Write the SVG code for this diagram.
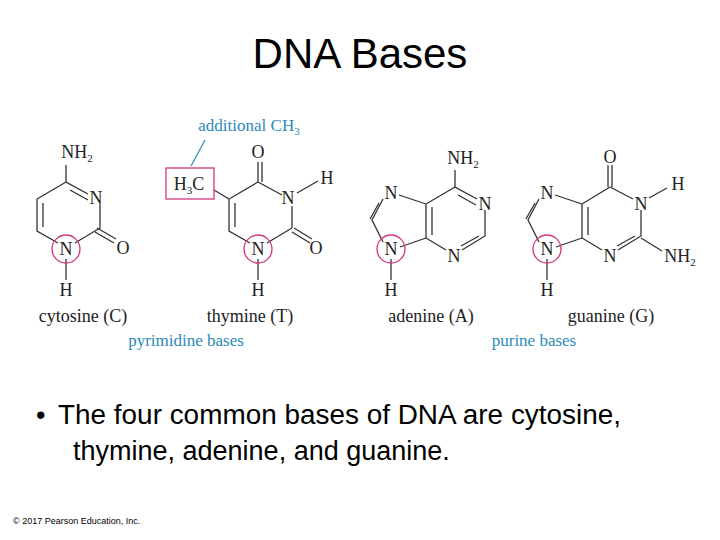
<svg xmlns="http://www.w3.org/2000/svg" width="720" height="540" viewBox="0 0 720 540">
<style>
.t{font-family:"Liberation Serif",serif;font-size:18px;fill:#222;text-anchor:middle}
.s{font-size:11px}
.b{font-family:"Liberation Serif",serif;font-size:17px;fill:#2a8ab8;text-anchor:middle}
.l{stroke:#333;stroke-width:1.3;fill:none}
.c{stroke:#d4357e;stroke-width:1.3;fill:none}
.a{font-family:"Liberation Sans",Arial,sans-serif;fill:#000}
</style>
<rect width="720" height="540" fill="#fff"/>
<text class="a" x="360" y="68" font-size="42" text-anchor="middle">DNA Bases</text>
<g id="connectors">
<path class="l" d="M66,165 V182 L88,194 M100,204 V228 L75,243 M58,243 L37,231 V199 L66,182 M70,190 L88,200 M43,203 V227 M95,232 L114,243 M97,228 L116,239 M66,259 V280"/>
<path class="l" d="M258,162 V182 M262,162 V182 M258,182 L282,195 M292,228 V206 M292,228 L267,243 M250,243 L229,231 V199 L258,182 M235,203 V227 M292,232 L310,243 M294,228 L312,239 M258,259 V280 M297,193 L318,181 M229,199 L214,190"/>
<path d="M205,140 L191,166" stroke="#2a8ab8" stroke-width="1.2" fill="none"/>
<rect x="166" y="168" width="48" height="31" fill="none" stroke="#d4357e" stroke-width="1.3"/>
<path class="l" d="M455,170 V187 L477,199 M485,210 V236 L462,250 M446,250 L426,238 V204 L455,187 M458,195 L476,205 M432,207 V235 M479,236 L461,246 M426,204 L399,195 M383,199 L372,220 L383,242 M379,203 L370,219 M426,238 L400,247 M391,259 V280"/>
<path class="l" d="M608,165 V187 M612,165 V187 M610,187 L633,199 M641,210 V236 L618,250 M602,250 L582,238 V204 L610,187 M588,207 V235 M635,236 L617,246 M582,204 L555,195 M539,199 L528,220 L539,242 M535,203 L526,219 M582,238 L556,247 M547,259 V280 M649,198 L667,188 M641,238 L662,251"/>
</g>
<g id="cytosine">
<text class="t" x="77" y="158">NH<tspan class="s" dy="4">2</tspan></text>
<text class="t" x="96" y="204">N</text>
<text class="t" x="123" y="254">O</text>
<text class="t" x="66" y="255">N</text>
<circle class="c" cx="66" cy="249" r="14"/>
<text class="t" x="66" y="296">H</text>
<text class="t" x="83" y="322">cytosine (C)</text>
</g>
<g id="thymine">
<text class="b" x="249" y="131">additional CH<tspan font-size="11" dy="4">3</tspan></text>
<text class="t" x="189" y="190">H<tspan class="s" dy="4">3</tspan><tspan dy="-4">C</tspan></text>
<text class="t" x="258" y="158">O</text>
<text class="t" x="288" y="204">N</text>
<text class="t" x="327" y="184">H</text>
<text class="t" x="316" y="254">O</text>
<text class="t" x="258" y="255">N</text>
<circle class="c" cx="258" cy="249" r="14"/>
<text class="t" x="258" y="296">H</text>
<text class="t" x="250" y="322">thymine (T)</text>
<text class="b" x="186" y="346">pyrimidine bases</text>
</g>
<g id="adenine">
<text class="t" x="463" y="164">NH<tspan class="s" dy="4">2</tspan></text>
<text class="t" x="485" y="210">N</text>
<text class="t" x="454" y="262">N</text>
<text class="t" x="391" y="199">N</text>
<text class="t" x="391" y="255">N</text>
<circle class="c" cx="391" cy="249" r="14"/>
<text class="t" x="391" y="296">H</text>
<text class="t" x="431" y="322">adenine (A)</text>
</g>
<g id="guanine">
<text class="t" x="610" y="163">O</text>
<text class="t" x="641" y="210">N</text>
<text class="t" x="678" y="190">H</text>
<text class="t" x="610" y="262">N</text>
<text class="t" x="680" y="262">NH<tspan class="s" dy="4">2</tspan></text>
<text class="t" x="547" y="199">N</text>
<text class="t" x="547" y="255">N</text>
<circle class="c" cx="547" cy="249" r="14"/>
<text class="t" x="547" y="296">H</text>
<text class="t" x="611" y="322">guanine (G)</text>
<text class="b" x="534" y="346">purine bases</text>
</g>
<g id="bullet" class="a" font-size="27">
<text x="36" y="424">•</text>
<text x="58" y="424" textLength="563" lengthAdjust="spacingAndGlyphs">The four common bases of DNA are cytosine,</text>
<text x="73" y="460">thymine, adenine, and guanine.</text>
<text x="13" y="524" font-size="9">© 2017 Pearson Education, Inc.</text>
</g>
</svg>
